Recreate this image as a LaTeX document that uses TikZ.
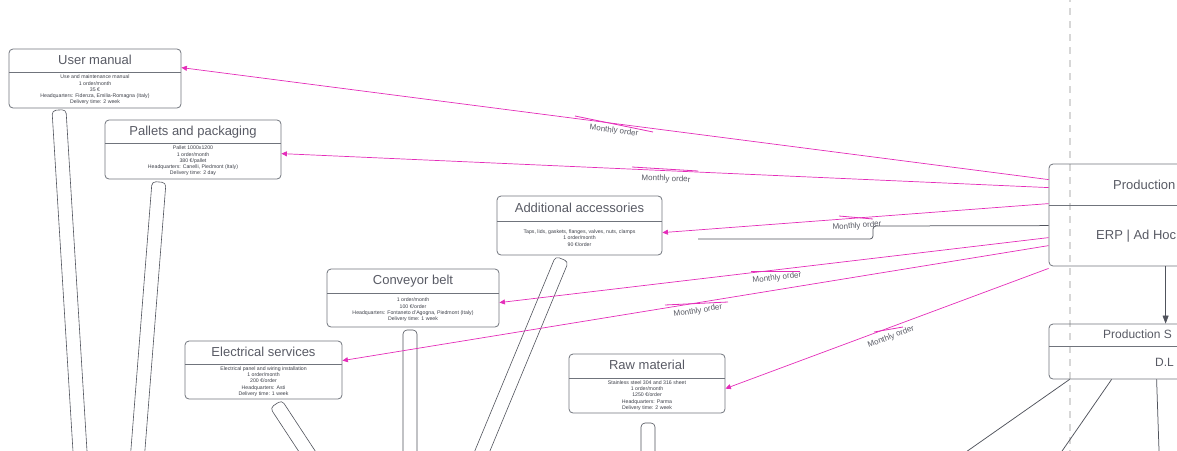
\documentclass[tikz,border=0pt]{standalone}
\usepackage{fontspec}
\setmainfont{Liberation Sans}
\usetikzlibrary{arrows.meta,fit,calc}

\definecolor{frameC}{RGB}{112,116,124}
\definecolor{titleC}{RGB}{88,90,100}
\definecolor{bodyC}{RGB}{60,63,72}
\definecolor{lineC}{RGB}{80,83,92}
\definecolor{orderC}{RGB}{228,45,185}
\definecolor{guideC}{RGB}{215,215,215}

\tikzset{
  frame/.style={draw=frameC, line width=0.8pt, rounded corners=4pt, inner sep=0pt},
  ttl/.style={text=titleC, font=\fontsize{13}{15}\selectfont, inner sep=0pt,
              text height=9.5pt, text depth=2.5pt},
  ttlsmall/.style={ttl, font=\fontsize{12}{14}\selectfont},
  bodytxt/.style={text=bodyC, font=\fontsize{5.2}{6.3}\selectfont, align=center, inner sep=0pt},
  order/.style={draw=orderC, line width=0.7pt, -{Triangle[length=5.5pt,width=5pt]}},
  tick/.style={draw=orderC, line width=0.8pt},
  lbl/.style={text=titleC, font=\fontsize{8}{9}\selectfont, inner sep=0pt},
  link/.style={draw=lineC, line width=0.75pt},
  stilt/.style={draw=lineC, line width=0.6pt, rounded corners=4pt},
  guide/.style={draw=guideC, line width=1.6pt, dash pattern=on 7pt off 6pt},
}

% supplier card: name, x1, y1, x2, y of the divider, y2, title, details
\newcommand\suppbox[8]{%
  \node[frame, fit={(#2,#3) (#4,#6)}] (#1) {};
  \draw[frameC, line width=0.8pt] (#2,#5) -- (#4,#5);
  \node[ttl] (#1-t) at ({(#2+#4)/2},{(#3+#5)/2}) {#7};
  \node[bodytxt] (#1-b) at ({(#2+#4)/2},{(#5+#6)/2}) {#8};
}

% long slanted strip below a card, from its top centre towards a far point
\newcommand\stiltpath[2]{%
  \draw[stilt] ($(#1)!7pt!90:(#2)$) -- ($(#2)!7pt!-90:(#1)$)
    -- ($(#2)!7pt!90:(#1)$) -- ($(#1)!7pt!-90:(#2)$) -- cycle;
}

\begin{document}
\begin{tikzpicture}[x=1pt,y=-1pt]
\useasboundingbox (0,0) rectangle (1177,450);
\clip (0,0) rectangle (1177,450);

% vertical swimlane guide
\coordinate (g1) at (1070,-5);
\coordinate (g2) at (1070,455);
\draw[guide] (g1) -- (g2);

% supplier cards
\suppbox{um}{9}{49}{181}{72}{108}{User manual}
  {Use and maintenance manual\\1 order/month\\35 €\\Headquarters: Fidenza, Emilia-Romagna (Italy)\\Delivery time: 2 week}
\suppbox{pp}{105}{120}{281}{143}{179}{Pallets and packaging}
  {Pallet 1000x1200\\1 order/month\\380 €/pallet\\Headquarters: Canelli, Piedmont (Italy)\\Delivery time: 2 day}
\suppbox{aa}{497}{196}{662}{221}{255}{Additional accessories}
  {Taps, lids, gaskets, flanges, valves, nuts, clamps\\1 order/month\\90 €/order}
\suppbox{cb}{327}{269}{499}{293}{327}{Conveyor belt}
  {1 order/month\\100 €/order\\Headquarters: Fontaneto d'Agogna, Piedmont (Italy)\\Delivery time: 1 week}
\suppbox{es}{185}{341}{342}{364}{399}{Electrical services}
  {Electrical panel and wiring installation\\1 order/month\\200 €/order\\Headquarters: Asti\\Delivery time: 1 week}
\suppbox{rm}{569}{354}{725}{378}{413}{Raw material}
  {Stainless steel 304 and 316 sheet\\1 order/month\\1250 €/order\\Headquarters: Parma\\Delivery time: 2 week}

% production cards on the right
\node[frame, fit={(1049,164) (1300,266)}] (erp) {};
\draw[frameC, line width=0.8pt] (1049,205) -- (1300,205);
\node[ttl, anchor=west] (erp-t) at (1113,186) {Production};
\node[ttl, anchor=west] (erp-b) at (1096,236) {ERP | Ad Hoc};

\node[frame, fit={(1049,324) (1300,379)}] (ps) {};
\draw[frameC, line width=0.8pt] (1049,346) -- (1300,346);
\node[ttlsmall, anchor=west] (ps-t) at (1103,335) {Production S};
\node[ttlsmall, anchor=west] (ps-b) at (1155,363) {D.L};

% strips hanging below the supplier cards
\coordinate (s1a) at (59,110);  \coordinate (s1b) at (83,500);
\coordinate (s2a) at (159,182); \coordinate (s2b) at (134,500);
\coordinate (s3a) at (276,404); \coordinate (s3b) at (339,500);
\coordinate (s4a) at (410,330); \coordinate (s4b) at (410,500);
\coordinate (s5a) at (562,259); \coordinate (s5b) at (462,500);
\coordinate (s6a) at (648,423); \coordinate (s6b) at (648,500);
\stiltpath{s1a}{s1b}
\stiltpath{s2a}{s2b}
\stiltpath{s3a}{s3b}
\stiltpath{s4a}{s4b}
\stiltpath{s5a}{s5b}
\stiltpath{s6a}{s6b}

% monthly orders
\draw[order] ([yshift=-16pt]erp.north west) -- ([yshift=-19pt]um.north east);
\draw[order] ([yshift=-24pt]erp.north west) -- ([yshift=-34pt]pp.north east);
\draw[order] ([yshift=-40pt]erp.north west) -- ([yshift=-37pt]aa.north east);
\draw[order] ([yshift=-74pt]erp.north west) -- ([yshift=-34pt]cb.north east);
\draw[order] ([yshift=-82pt]erp.north west) -- ([yshift=-20pt]es.north east);
\draw[order] ([yshift=-2pt]erp.south west) -- ([yshift=-35pt]rm.north east);

% short strokes next to the order labels
\draw[tick] (575,116) -- (653,132);
\draw[tick] (632,167) -- (698,171);
\draw[tick] (839,216) -- (873,219);
\draw[tick] (751,271) -- (800,271);
\draw[tick] (665,305) -- (728,302);
\draw[tick] (874,332) -- (903,327);

\node[lbl, rotate=-7.4] (lA) at (614,131) {Monthly order};
\node[lbl, rotate=-2.5] (lB) at (666,179) {Monthly order};
\node[lbl, rotate=4.1]  (lC) at (857,226) {Monthly order};
\node[lbl, rotate=6.8]  (lD) at (777,278) {Monthly order};
\node[lbl, rotate=9.3]  (lE) at (698,311) {Monthly order};
\node[lbl, rotate=20.7] (lF) at (891,337) {Monthly order};

% grey feed line
\coordinate (gEnd) at (698,239);
\draw[link, rounded corners=3pt] ([yshift=-62pt]erp.north west) -- (873,226) -- (873,239) -- (gEnd);

% production flow
\draw[link, -{Triangle[length=8pt,width=6pt]}] ([xshift=117pt]erp.south west) -- ([xshift=117pt]ps.north west);
\coordinate (o1) at (926,480);
\coordinate (o2) at (1042,480);
\coordinate (o3) at (1160,480);
\draw[link] ([xshift=21pt]ps.south west) -- (o1);
\draw[link] ([xshift=63pt]ps.south west) -- (o2);
\draw[link] ([xshift=108pt]ps.south west) -- (o3);
\end{tikzpicture}
\end{document}
